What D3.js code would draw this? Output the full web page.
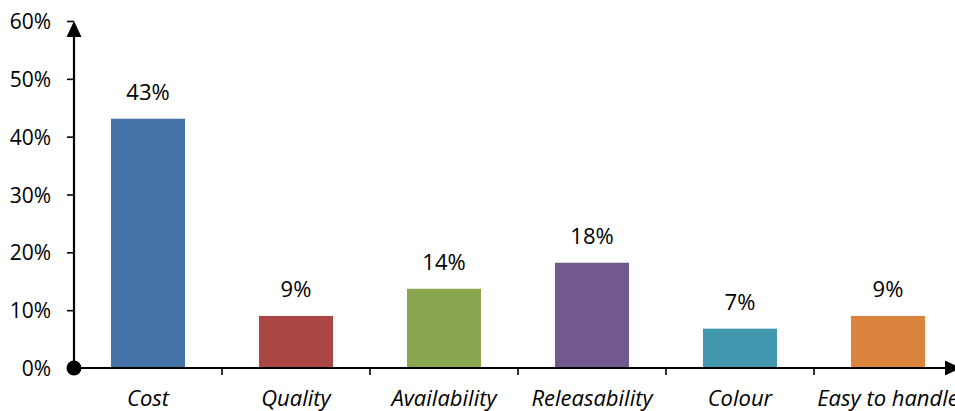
<!DOCTYPE html>
<html>
<head>
<meta charset="utf-8">
<script src="https://cdn.jsdelivr.net/npm/d3@7"></script>
<style>
  body { margin: 0; background: #fff; }
  svg text { font-family: "Open Sans", Lato, sans-serif; fill: #000; }
</style>
</head>
<body>
<div id="chart"></div>
<script>
var w = 955,
    h = 411;

var categories = ["Cost", "Quality", "Availability", "Releasability", "Colour", "Easy to handle"];
var values = [0.431, 0.090, 0.137, 0.182, 0.068, 0.090];
var colors = ["#4572a7", "#aa4643", "#89a54e", "#71588f", "#4198af", "#db843d"];
var yTicks = [0, 0.1, 0.2, 0.3, 0.4, 0.5, 0.6];

var x0 = 74, y0 = 368;

var svg = d3.select("#chart").append("svg")
  .attr("width", w)
  .attr("height", h);

var x = d3.scaleBand()
  .domain(categories)
  .range([x0, x0 + 148 * categories.length])
  .paddingInner(0.5)
  .paddingOuter(0.25);

var y = d3.scaleLinear()
  .domain([0, 0.6])
  .range([y0, 21]);

var pct = d3.format(".0%");

// y axis ticks + labels
var yAxis = svg.append("g")
  .attr("transform", "translate(" + x0 + ",0)")
  .call(d3.axisLeft(y).tickValues(yTicks).tickFormat(pct).tickSize(7).tickPadding(16));
yAxis.select(".domain").remove();
yAxis.selectAll("line").attr("stroke", "#000").attr("stroke-width", 1.6);
yAxis.selectAll("text").style("font-size", "21px").attr("dy", "0.36em");

// x axis: ticks between categories
var step = x.step();
var sep = d3.range(1, categories.length).map(function(i) { return x0 + i * step; });
svg.selectAll(".xtick").data(sep).enter().append("line")
  .attr("class", "xtick")
  .attr("x1", function(d) { return d; })
  .attr("x2", function(d) { return d; })
  .attr("y1", y0)
  .attr("y2", y0 + 7)
  .attr("stroke", "#000")
  .attr("stroke-width", 1.6);

svg.selectAll(".xlab").data(categories).enter().append("text")
  .attr("class", "xlab")
  .attr("x", function(d) { return x(d) + x.bandwidth() / 2; })
  .attr("y", 406)
  .attr("text-anchor", "middle")
  .style("font-size", "22px")
  .style("font-style", "italic")
  .text(function(d) { return d; });

// bars
svg.selectAll(".bar").data(values).enter().append("rect")
  .attr("class", "bar")
  .attr("x", function(d, i) { return x(categories[i]); })
  .attr("width", x.bandwidth())
  .attr("y", function(d) { return y(d); })
  .attr("height", function(d) { return y0 - y(d); })
  .attr("fill", function(d, i) { return colors[i]; });

svg.selectAll(".val").data(values).enter().append("text")
  .attr("class", "val")
  .attr("x", function(d, i) { return x(categories[i]) + x.bandwidth() / 2; })
  .attr("y", function(d) { return y(d) - 19; })
  .attr("text-anchor", "middle")
  .style("font-size", "22px")
  .text(function(d) { return pct(d); });

// axis lines with arrows
svg.append("line")
  .attr("x1", x0).attr("x2", x0)
  .attr("y1", y0).attr("y2", 36)
  .attr("stroke", "#000").attr("stroke-width", 2.2);
svg.append("path")
  .attr("d", "M" + x0 + ",21 L" + (x0 - 7.5) + ",37 L" + (x0 + 7.5) + ",37 Z")
  .attr("fill", "#000");

svg.append("line")
  .attr("x1", x0).attr("x2", 946)
  .attr("y1", y0).attr("y2", y0)
  .attr("stroke", "#000").attr("stroke-width", 2.2);
svg.append("path")
  .attr("d", "M961," + y0 + " L945," + (y0 - 7.5) + " L945," + (y0 + 7.5) + " Z")
  .attr("fill", "#000");

svg.append("circle")
  .attr("cx", x0).attr("cy", y0).attr("r", 7.5)
  .attr("fill", "#000");
</script>
</body>
</html>
